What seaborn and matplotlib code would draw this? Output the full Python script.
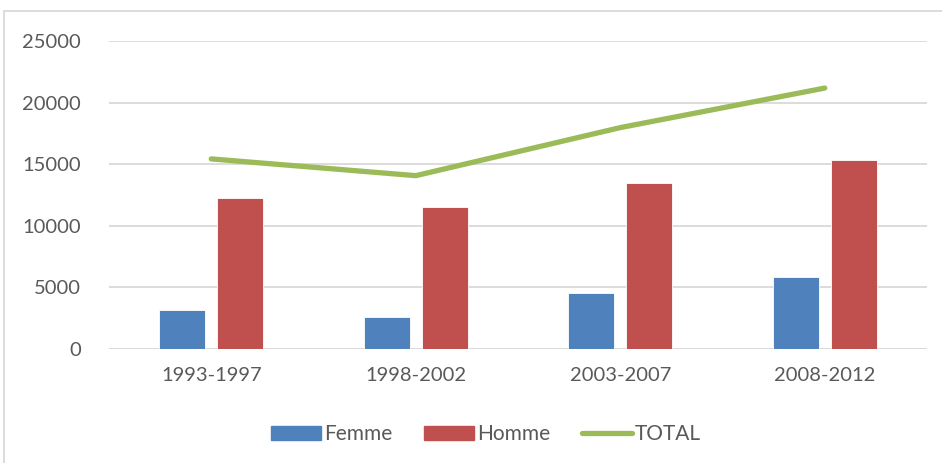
import numpy as np
import pandas as pd
import matplotlib.pyplot as plt
import seaborn as sns
from matplotlib.patches import Rectangle, Patch
from matplotlib.lines import Line2D

# data
periods = ['1993-1997', '1998-2002', '2003-2007', '2008-2012']
femme = [3170, 2570, 4520, 5840]
homme = [12260, 11500, 13450, 15340]
total = [15430, 14070, 17970, 21180]

BLUE = '#4F81BD'
RED = '#C0504D'
GREEN = '#9BBB59'
GRID = '#D9D9D9'
TEXT = '#595959'

df = pd.DataFrame({'period': periods * 2,
                   'value': femme + homme,
                   'sexe': ['Femme'] * len(periods) + ['Homme'] * len(periods)})

sns.set_style('white')
plt.rcParams['font.family'] = ['Lato', 'DejaVu Sans']

fig = plt.figure(figsize=(9.42, 4.63), dpi=100)
ax = fig.add_axes([109 / 942, 1 - 349 / 463, 818 / 942, 308 / 463])

sns.barplot(data=df, x='period', y='value', hue='sexe', order=periods,
            palette={'Femme': BLUE, 'Homme': RED}, width=0.57, gap=0.21,
            saturation=1, ax=ax, legend=False, edgecolor='white', linewidth=0.6)

pos = np.arange(len(periods))
sns.lineplot(x=pos, y=total, color=GREEN, linewidth=3.8, ax=ax,
             solid_capstyle='round', zorder=5)

ax.set_xlim(-0.5, len(periods) - 0.5)
ax.set_ylim(0, 25000)
ax.set_yticks(np.arange(0, 25001, 5000))
ax.yaxis.grid(True, color=GRID, linewidth=1.3)
ax.set_axisbelow(True)
for s in ax.spines.values():
    s.set_visible(False)
ax.axhline(0, color=GRID, linewidth=1.3, zorder=0)
ax.set_xlabel('')
ax.set_ylabel('')
ax.tick_params(axis='y', length=0, pad=20, labelsize=14.5, labelcolor=TEXT)
ax.tick_params(axis='x', length=0, pad=13, labelsize=14.5, labelcolor=TEXT)

# chart area border, Excel style
fig.patches.append(Rectangle((4 / 942, -0.1), 1.2, 1 - 11 / 463 + 0.1,
                             transform=fig.transFigure, fill=False,
                             edgecolor=GRID, linewidth=1.3))

handles = [Patch(color=BLUE, label='Femme'),
           Patch(color=RED, label='Homme'),
           Line2D([0], [0], color=GREEN, linewidth=3.8, solid_capstyle='round', label='TOTAL')]
fig.legend(handles=handles, loc='center', bbox_to_anchor=(0.516, 1 - 434 / 463),
           ncol=3, frameon=False, fontsize=15, labelcolor=TEXT,
           handlelength=2.4, handleheight=0.65, handletextpad=0.15, columnspacing=1.5)

fig.savefig('out.png', dpi=100, facecolor='white')
